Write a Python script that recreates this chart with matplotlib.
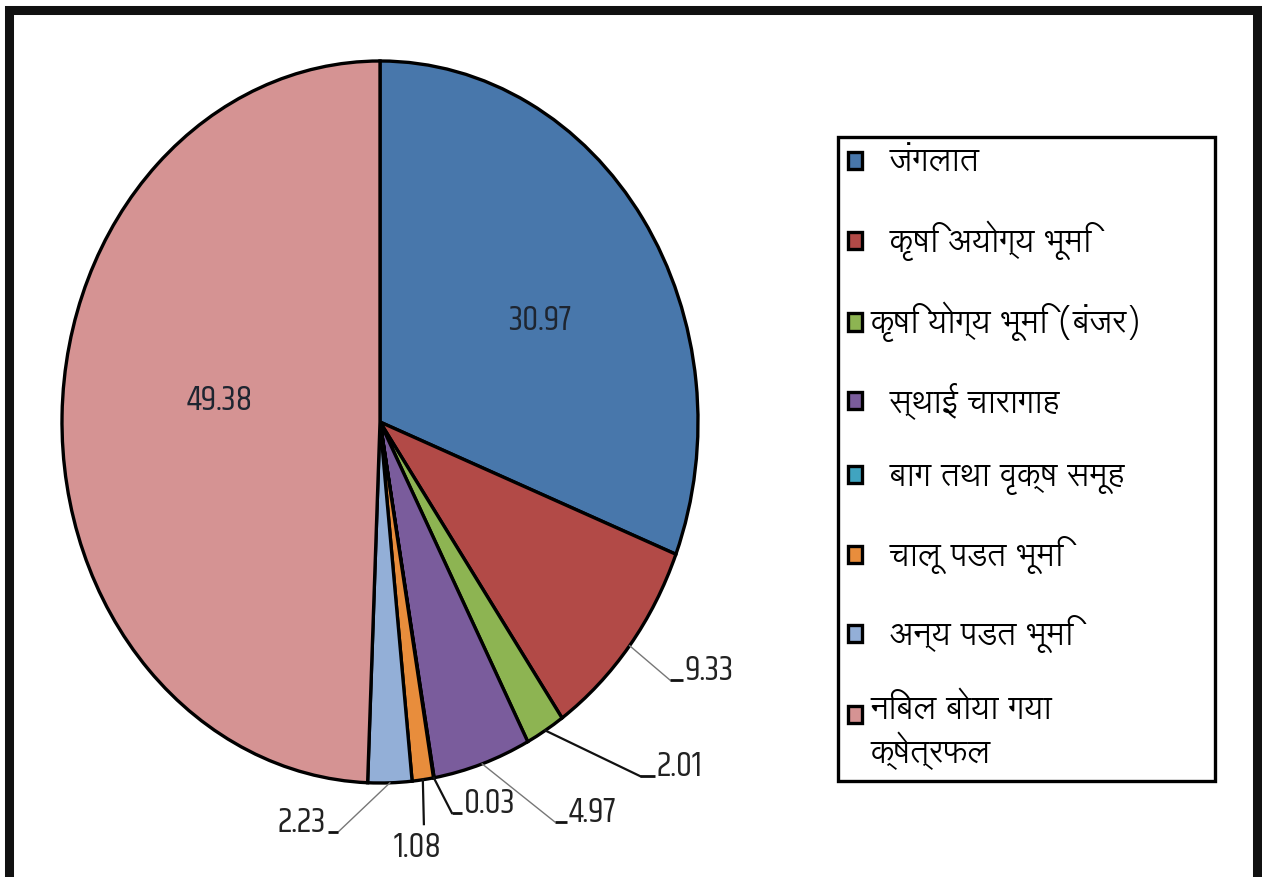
import matplotlib
matplotlib.use("Agg")
import numpy as np
import matplotlib.pyplot as plt
from matplotlib.patches import Rectangle

# land use shares (%)
categories = ["  जंगलात", "  कृषि अयोग्य भूमि", "कृषि योग्य भूमि (बंजर)", "  स्थाई चारागाह",
              "  बाग तथा वृक्ष समूह", "  चालू पडत भूमि", "  अन्य पडत भूमि", "निबल बोया गया\nक्षेत्रफल"]
values = [30.97, 9.33, 2.01, 4.97, 0.03, 1.08, 2.23, 49.38]
value_labels = ["30.97", "9.33", "2.01", "4.97", "0.03", "1.08", "2.23", "49.38"]
colors = ["#4877ab", "#b24a47", "#8db452", "#7a5c9c", "#40a4c0", "#e88d3c", "#93afd7", "#d59393"]

NUM_FONT = ["Khand", "Liberation Sans", "DejaVu Sans"]
DEVA_FONT = ["Lohit Devanagari", "Noto Sans Devanagari", "DejaVu Sans"]
NUM_SIZE = 26

W, H = 1262, 877
fig = plt.figure(figsize=(W / 100, H / 100), dpi=100)
ax = fig.add_axes([62 / W, (H - 783) / H, 636 / W, 722 / H])
wedges, _ = ax.pie(values, colors=colors, startangle=90, counterclock=False,
                   wedgeprops=dict(edgecolor="black", linewidth=2.4))
ax.set_aspect("auto")
ax.set_xlim(-1, 1)
ax.set_ylim(-1, 1)
ax.axis("off")

# labels inside the two big slices
inside = {0: (0.503, 0.283), 7: (-0.503, 0.061)}
for i, (x, y) in inside.items():
    ax.text(x, y, value_labels[i], ha="center", va="center", fontsize=NUM_SIZE,
            family=NUM_FONT, color="#1e2530")

# leader lines for the small slices: elbow point, tail end, text anchor, line colour
outside = {
    1: ((0.912, -0.715), 0.953, (0.958, -0.715, "left", "baseline"), "#777777", 1.0),
    2: ((0.818, -0.981), 0.865, (0.870, -0.981, "left", "baseline"), "#111111", 1.6),
    3: ((0.550, -1.108), 0.588, (0.593, -1.108, "left", "baseline"), "#777777", 1.0),
    4: ((0.226, -1.083), 0.258, (0.263, -1.083, "left", "baseline"), "#111111", 1.6),
    5: ((0.138, -1.114), None, (0.119, -1.132, "center", "top"), "#111111", 1.6),
    6: ((-0.132, -1.136), -0.164, (-0.170, -1.136, "right", "baseline"), "#777777", 1.0),
}
for i, (elbow, tail, (tx, ty, ha, va), lc, lw) in outside.items():
    w = wedges[i]
    mid = np.deg2rad((w.theta1 + w.theta2) / 2)
    ex, ey = np.cos(mid), np.sin(mid)
    ax.plot([ex, elbow[0]], [ey, elbow[1]], color=lc, lw=lw, clip_on=False)
    if tail is not None:
        ax.plot([elbow[0], tail], [elbow[1], elbow[1]], color="#111111", lw=2.0,
                clip_on=False, solid_capstyle="butt")
    ax.text(tx, ty, value_labels[i], ha=ha, va=va, fontsize=NUM_SIZE, family=NUM_FONT,
            color="#222222", clip_on=False)

leg = fig.legend(wedges, categories, loc="upper left",
                 bbox_to_anchor=(838 / W, 1 - 137 / H, 377 / W, 0), mode="expand",
                 borderaxespad=0, frameon=True, fancybox=False, framealpha=1,
                 edgecolor="black", handlelength=0.45, handleheight=0.45,
                 handletextpad=0.25, labelspacing=1.28, borderpad=0.3,
                 prop={"family": DEVA_FONT, "size": 23})
leg.get_frame().set_linewidth(2.4)

# two-line entry: keep its swatch level with the first line
last = leg.legend_handles[-1]
last.set_y(last.get_y() + 14)

# outer border of the graphic
fig.add_artist(Rectangle((9 / W, -3 / H), 1248 / W, 870 / H, transform=fig.transFigure,
                         fill=False, edgecolor="#111111", linewidth=6.5))
fig.savefig("out.png", dpi=100)
